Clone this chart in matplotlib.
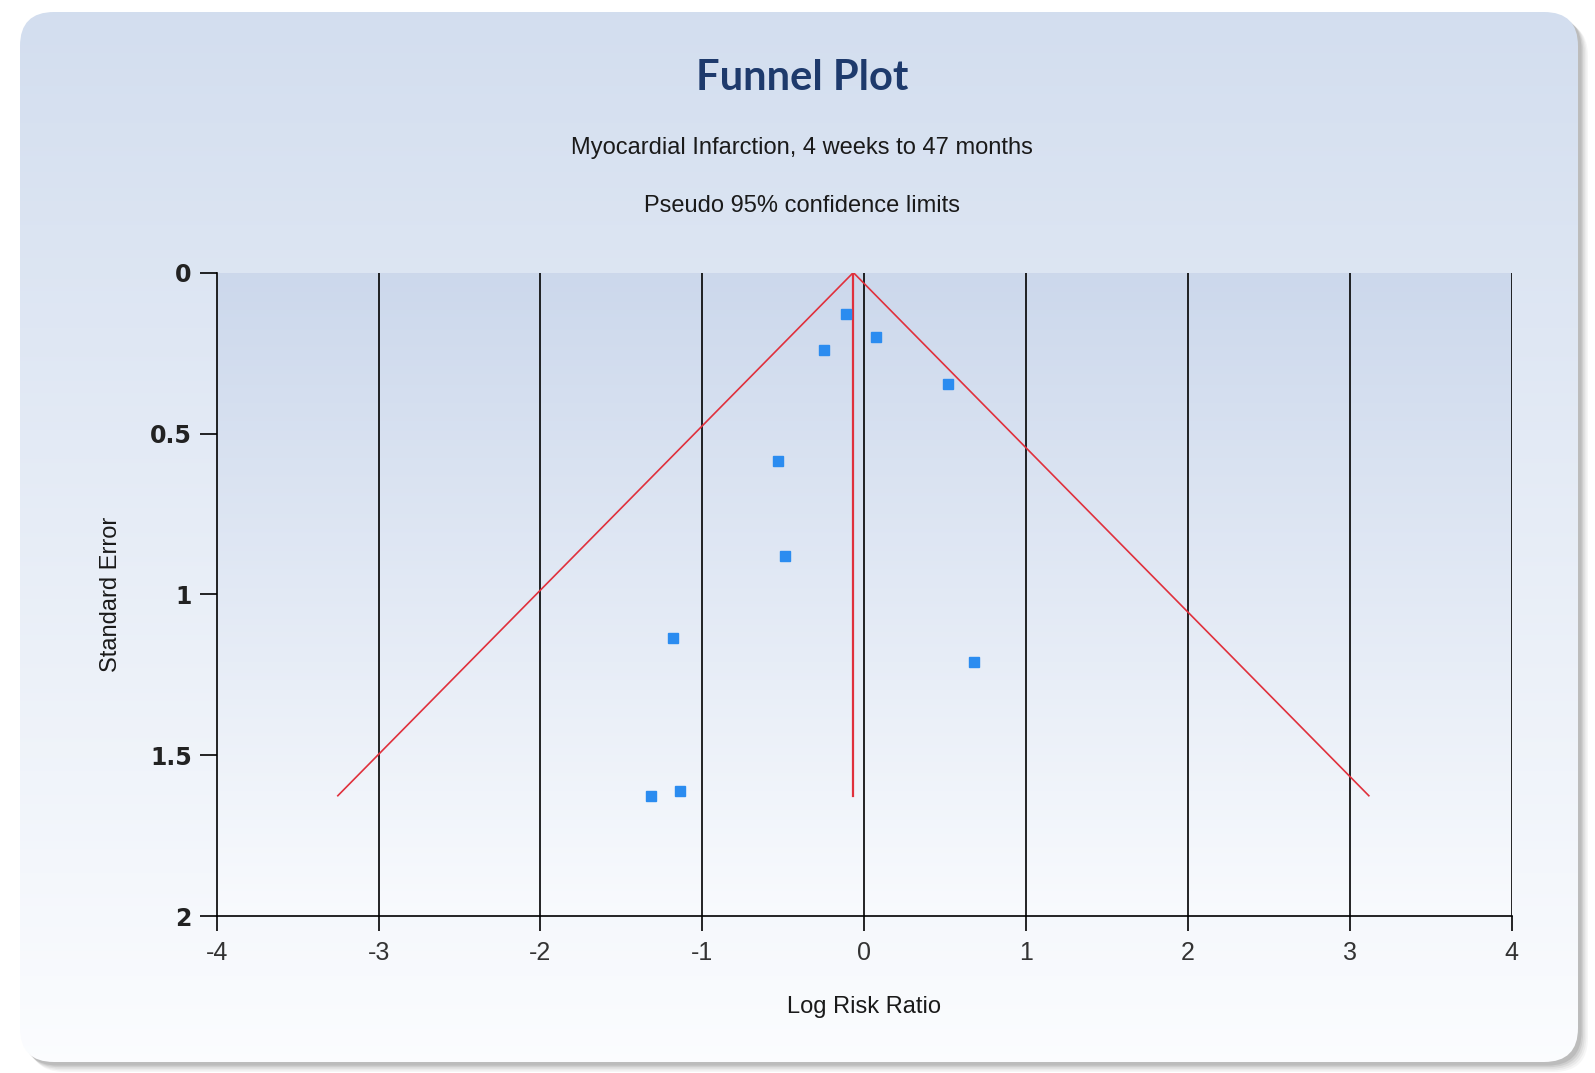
import matplotlib.pyplot as plt
import numpy as np
from matplotlib.patches import FancyBboxPatch
from matplotlib import font_manager

# study estimates (log risk ratio) and their standard errors
log_rr = [-0.11, 0.07, -0.25, 0.52, -0.53, -0.49, -1.18, 0.68, -1.32, -1.14]
std_err = [0.13, 0.20, 0.24, 0.345, 0.585, 0.88, 1.135, 1.21, 1.625, 1.61]
pooled_lrr = -0.067
se_max = 1.625
z95 = 1.96

x_ticks = [-4, -3, -2, -1, 0, 1, 2, 3, 4]
y_ticks = [0, 0.5, 1, 1.5, 2]
y_tick_labels = ['0', '0.5', '1', '1.5', '2']

names = {f.name for f in font_manager.fontManager.ttflist}
narrow = ['Liberation Sans Narrow', 'Liberation Sans'] if 'Liberation Sans Narrow' in names else ['Liberation Sans']

W, H = 1595, 1073
fig = plt.figure(figsize=(W / 100, H / 100), dpi=100)
fig.patch.set_facecolor('white')

# rounded panel with soft shadow
bg = fig.add_axes([0, 0, 1, 1])
bg.set_xlim(0, W)
bg.set_ylim(H, 0)
bg.axis('off')
px0, py0, pw, ph = 20, 12, 1558, 1050
for i, a in enumerate([0.05, 0.07, 0.09, 0.12, 0.16]):
    off = 10 - i * 1.6
    bg.add_patch(FancyBboxPatch((px0 + off, py0 + off), pw, ph,
                                boxstyle='round,pad=0,rounding_size=34',
                                fc='#606060', ec='none', alpha=a))
panel = FancyBboxPatch((px0, py0), pw, ph, boxstyle='round,pad=0,rounding_size=34',
                       fc='none', ec='none')
bg.add_patch(panel)
t = np.linspace(0, 1, 256)[:, None, None]
top = np.array([0.827, 0.870, 0.937])
bot = np.array([0.985, 0.990, 0.998])
grad = top * (1 - t) + bot * t
im = bg.imshow(grad, extent=(px0, px0 + pw, py0 + ph, py0), aspect='auto', zorder=1)
im.set_clip_path(panel)

fig.text(0.503, 0.927, 'Funnel Plot', ha='center', va='center', fontsize=30,
         fontweight='bold', family=['Lato', 'DejaVu Sans'], color='#1e3a6c')
fig.text(0.503, 0.862, 'Myocardial Infarction, 4 weeks to 47 months', ha='center',
         va='center', fontsize=17, family=narrow, color='#1a1a1a')
fig.text(0.503, 0.808, 'Pseudo 95% confidence limits', ha='center', va='center',
         fontsize=17, family=narrow, color='#1a1a1a')

ax = fig.add_axes([0.1359, 0.1459, 0.8118, 0.6001])
ax.set_facecolor('none')
ax.set_xlim(-4, 4)
ax.set_ylim(2, 0)

# plot area gradient
pt = np.linspace(0, 1, 256)[:, None, None]
ptop = np.array([0.800, 0.847, 0.925])
pbot = np.array([0.975, 0.983, 0.995])
ax.imshow(ptop * (1 - pt) + pbot * pt, extent=(-4, 4, 2, 0), aspect='auto', zorder=0)

for xv in x_ticks[1:]:
    ax.axvline(xv, color='black', lw=1.2, zorder=1)

# pseudo 95% confidence funnel
ax.plot([pooled_lrr - z95 * se_max, pooled_lrr, pooled_lrr + z95 * se_max],
        [se_max, 0, se_max], color='#e0303c', lw=1.2, zorder=2)
ax.plot([pooled_lrr, pooled_lrr], [0, se_max], color='#e0303c', lw=1.6, zorder=2)

ax.plot(log_rr, std_err, 's', color='#2b8cf0', ms=6.5, mec='#2b8cf0', zorder=3)

for s in ['top', 'right']:
    ax.spines[s].set_visible(False)
for s in ['left', 'bottom']:
    ax.spines[s].set_color('black')
    ax.spines[s].set_linewidth(1.2)

ax.set_xticks(x_ticks)
ax.set_xticklabels([str(v) for v in x_ticks], family=['Liberation Sans'], fontsize=18,
                   color='#333333')
ax.set_yticks(y_ticks)
ax.set_yticklabels(y_tick_labels, fontweight='bold', fontsize=17, color='#222222')
ax.tick_params(axis='x', length=11, width=1.2, pad=7)
ax.tick_params(axis='y', length=12, width=1.2, pad=6)

ax.set_xlabel('Log Risk Ratio', family=narrow, fontsize=17, color='#1a1a1a', labelpad=22)
ax.set_ylabel('Standard Error', family=narrow, fontsize=17, color='#1a1a1a', labelpad=20)

fig.savefig('out.png', dpi=100, facecolor='white')
